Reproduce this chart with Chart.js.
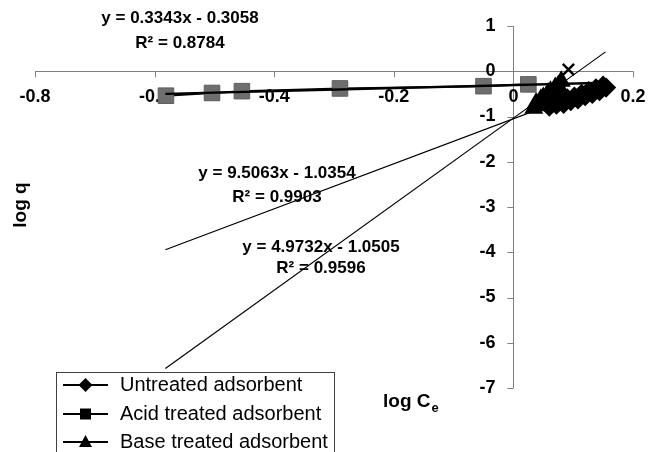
<!DOCTYPE html>
<html>
<head>
<meta charset="utf-8">
<script src="https://cdn.jsdelivr.net/npm/chart.js@4/dist/chart.umd.min.js"></script>
<style>
  body { margin: 0; background: #fff; }
</style>
</head>
<body>
<canvas id="chart" width="648" height="452"></canvas>
<script>
// values (log Ce, log q)
const untreatedX = [0.060, 0.066, 0.072, 0.078, 0.084, 0.090, 0.096, 0.102, 0.108, 0.114, 0.120, 0.126, 0.132, 0.138, 0.144, 0.150, 0.155];
const untreatedY = [-0.78, -0.70, -0.74, -0.64, -0.72, -0.60, -0.66, -0.56, -0.62, -0.50, -0.55, -0.44, -0.50, -0.38, -0.44, -0.32, -0.36];
const acidX = [-0.581, -0.504, -0.454, -0.290, -0.050, 0.025];
const acidY = [-0.54, -0.48, -0.44, -0.38, -0.33, -0.29];
const baseX = [0.034, 0.038, 0.042, 0.046, 0.050, 0.054, 0.058, 0.062, 0.066, 0.070, 0.075, 0.080];
const baseY = [-0.82, -0.70, -0.76, -0.62, -0.58, -0.66, -0.48, -0.44, -0.52, -0.36, -0.32, -0.22];
const extraX = [0.092];
const extraY = [0.04];

// trendline end points
const trendX = [-0.582, 0.154];
const acidTrendY = [-0.50, -0.254];
const untreatedTrendY = [-3.945, -0.285];
const baseTrendY = [-6.568, 0.428];

const seriesNames = ["Untreated adsorbent", "Acid treated adsorbent", "Base treated adsorbent"];
const eqText = ["y = 0.3343x - 0.3058", "y = 9.5063x - 1.0354", "y = 4.9732x - 1.0505"];
const r2Text = ["R\u00B2 = 0.8784", "R\u00B2 = 0.9903", "R\u00B2 = 0.9596"];

const xTicks = [-0.8, -0.6, -0.4, -0.2, 0, 0.2];
const xTickLabels = ["-0.8", "-0.6", "-0.4", "-0.2", "0", "0.2"];
const yTicks = [1, 0, -1, -2, -3, -4, -5, -6, -7];
const yTickLabels = ["1", "0", "-1", "-2", "-3", "-4", "-5", "-6", "-7"];

const pts = (xs, ys) => xs.map((x, i) => ({ x: x, y: ys[i] }));

const trend = (ys, w) => ({
  data: pts(trendX, ys),
  showLine: true,
  borderColor: "#000",
  borderWidth: w,
  pointRadius: 0
});

const axesPlugin = {
  id: "axes",
  beforeDatasetsDraw(chart) {
    const ctx = chart.ctx;
    const xs = chart.scales.x, ys = chart.scales.y;
    const x0 = xs.getPixelForValue(0), y0 = ys.getPixelForValue(0);
    ctx.save();
    ctx.strokeStyle = "#808080";
    ctx.lineWidth = 1;
    ctx.beginPath();
    ctx.moveTo(xs.getPixelForValue(-0.8), Math.round(y0) + 0.5);
    ctx.lineTo(xs.getPixelForValue(0.2), Math.round(y0) + 0.5);
    ctx.moveTo(Math.round(x0) + 0.5, ys.getPixelForValue(1));
    ctx.lineTo(Math.round(x0) + 0.5, ys.getPixelForValue(-7));
    xTicks.forEach(v => {
      const px = Math.round(xs.getPixelForValue(v)) + 0.5;
      ctx.moveTo(px, y0);
      ctx.lineTo(px, y0 + 6);
    });
    yTicks.forEach(v => {
      const py = Math.round(ys.getPixelForValue(v)) + 0.5;
      ctx.moveTo(x0 - 6, py);
      ctx.lineTo(x0, py);
    });
    ctx.stroke();

    ctx.fillStyle = "#000";
    ctx.font = "bold 18px 'Liberation Sans', Arial, sans-serif";
    ctx.textAlign = "center";
    ctx.textBaseline = "middle";
    xTicks.forEach((v, i) => {
      ctx.fillText(xTickLabels[i], xs.getPixelForValue(v), y0 + 26);
    });
    ctx.textAlign = "right";
    yTicks.forEach((v, i) => {
      ctx.fillText(yTickLabels[i], x0 - 18, ys.getPixelForValue(v));
    });
    ctx.restore();
  },
  afterDraw(chart) {
    const ctx = chart.ctx;
    ctx.save();
    ctx.fillStyle = "#000";

    // trendline equations
    ctx.font = "bold 17px 'Liberation Sans', Arial, sans-serif";
    ctx.textAlign = "center";
    ctx.textBaseline = "middle";
    const eqPos = [[180, 18, 43], [277, 173, 197], [321, 247, 268]];
    eqPos.forEach((p, i) => {
      ctx.fillText(eqText[i], p[0], p[1]);
      ctx.fillText(r2Text[i], p[0], p[2]);
    });

    // axis titles
    ctx.font = "bold 19px 'Liberation Sans', Arial, sans-serif";
    ctx.save();
    ctx.translate(21, 205);
    ctx.rotate(-Math.PI / 2);
    ctx.fillText("log q", 0, 0);
    ctx.restore();
    ctx.textAlign = "left";
    ctx.textBaseline = "alphabetic";
    const tx = 383, ty = 407;
    ctx.fillText("log C", tx, ty);
    const w = ctx.measureText("log C").width;
    ctx.font = "bold 13px 'Liberation Sans', Arial, sans-serif";
    ctx.fillText("e", tx + w + 1, ty + 5);

    // legend (box runs past the bottom edge)
    ctx.fillStyle = "#fff";
    ctx.fillRect(56, 372, 278, 100);
    ctx.strokeStyle = "#404040";
    ctx.lineWidth = 1;
    ctx.strokeRect(56.5, 372.5, 278, 100);
    const rowY = [385, 414, 442];
    ctx.font = "20px 'Liberation Sans', Arial, sans-serif";
    ctx.textBaseline = "middle";
    seriesNames.forEach((name, i) => {
      const y = rowY[i];
      ctx.strokeStyle = "#000";
      ctx.lineWidth = 2;
      ctx.beginPath();
      ctx.moveTo(63, y);
      ctx.lineTo(108, y);
      ctx.stroke();
      ctx.fillStyle = "#000";
      ctx.beginPath();
      if (i === 0) {
        ctx.moveTo(85.5, y - 7);
        ctx.lineTo(92.5, y);
        ctx.lineTo(85.5, y + 7);
        ctx.lineTo(78.5, y);
      } else if (i === 1) {
        ctx.rect(80, y - 5.5, 11, 11);
      } else {
        ctx.moveTo(85.5, y - 7);
        ctx.lineTo(92, y + 5);
        ctx.lineTo(79, y + 5);
      }
      ctx.closePath();
      ctx.fill();
      ctx.fillText(name, 120, y);
    });
    ctx.restore();
  }
};

new Chart(document.getElementById("chart"), {
  type: "scatter",
  data: {
    datasets: [
      trend(acidTrendY, 2.5),
      trend(untreatedTrendY, 1.2),
      trend(baseTrendY, 1.2),
      {
        label: "Series4",
        data: pts(extraX, extraY),
        pointStyle: "crossRot",
        pointRadius: 8,
        borderColor: "#000",
        pointBorderWidth: 2.5
      },
      {
        label: seriesNames[0],
        data: pts(untreatedX, untreatedY),
        showLine: true,
        borderColor: "#000",
        backgroundColor: "#000",
        borderWidth: 3,
        pointStyle: "rectRot",
        pointRadius: 8
      },
      {
        label: seriesNames[2],
        data: pts(baseX, baseY),
        showLine: true,
        borderColor: "#000",
        backgroundColor: "#000",
        borderWidth: 3,
        pointStyle: "triangle",
        pointRadius: 8
      },
      {
        label: seriesNames[1],
        data: pts(acidX, acidY),
        showLine: true,
        borderColor: "#000",
        backgroundColor: "#6e6e6e",
        pointBorderColor: "#5e5e5e",
        pointBorderWidth: 1,
        borderWidth: 2,
        pointStyle: "rect",
        pointRadius: 11
      }
    ]
  },
  options: {
    responsive: false,
    animation: false,
    layout: { padding: { left: 35, right: 15, top: 26, bottom: 64 } },
    scales: {
      x: { type: "linear", min: -0.8, max: 0.2, display: false },
      y: { type: "linear", min: -7, max: 1, display: false }
    },
    plugins: {
      legend: { display: false },
      tooltip: { enabled: false }
    }
  },
  plugins: [axesPlugin]
});
</script>
</body>
</html>
